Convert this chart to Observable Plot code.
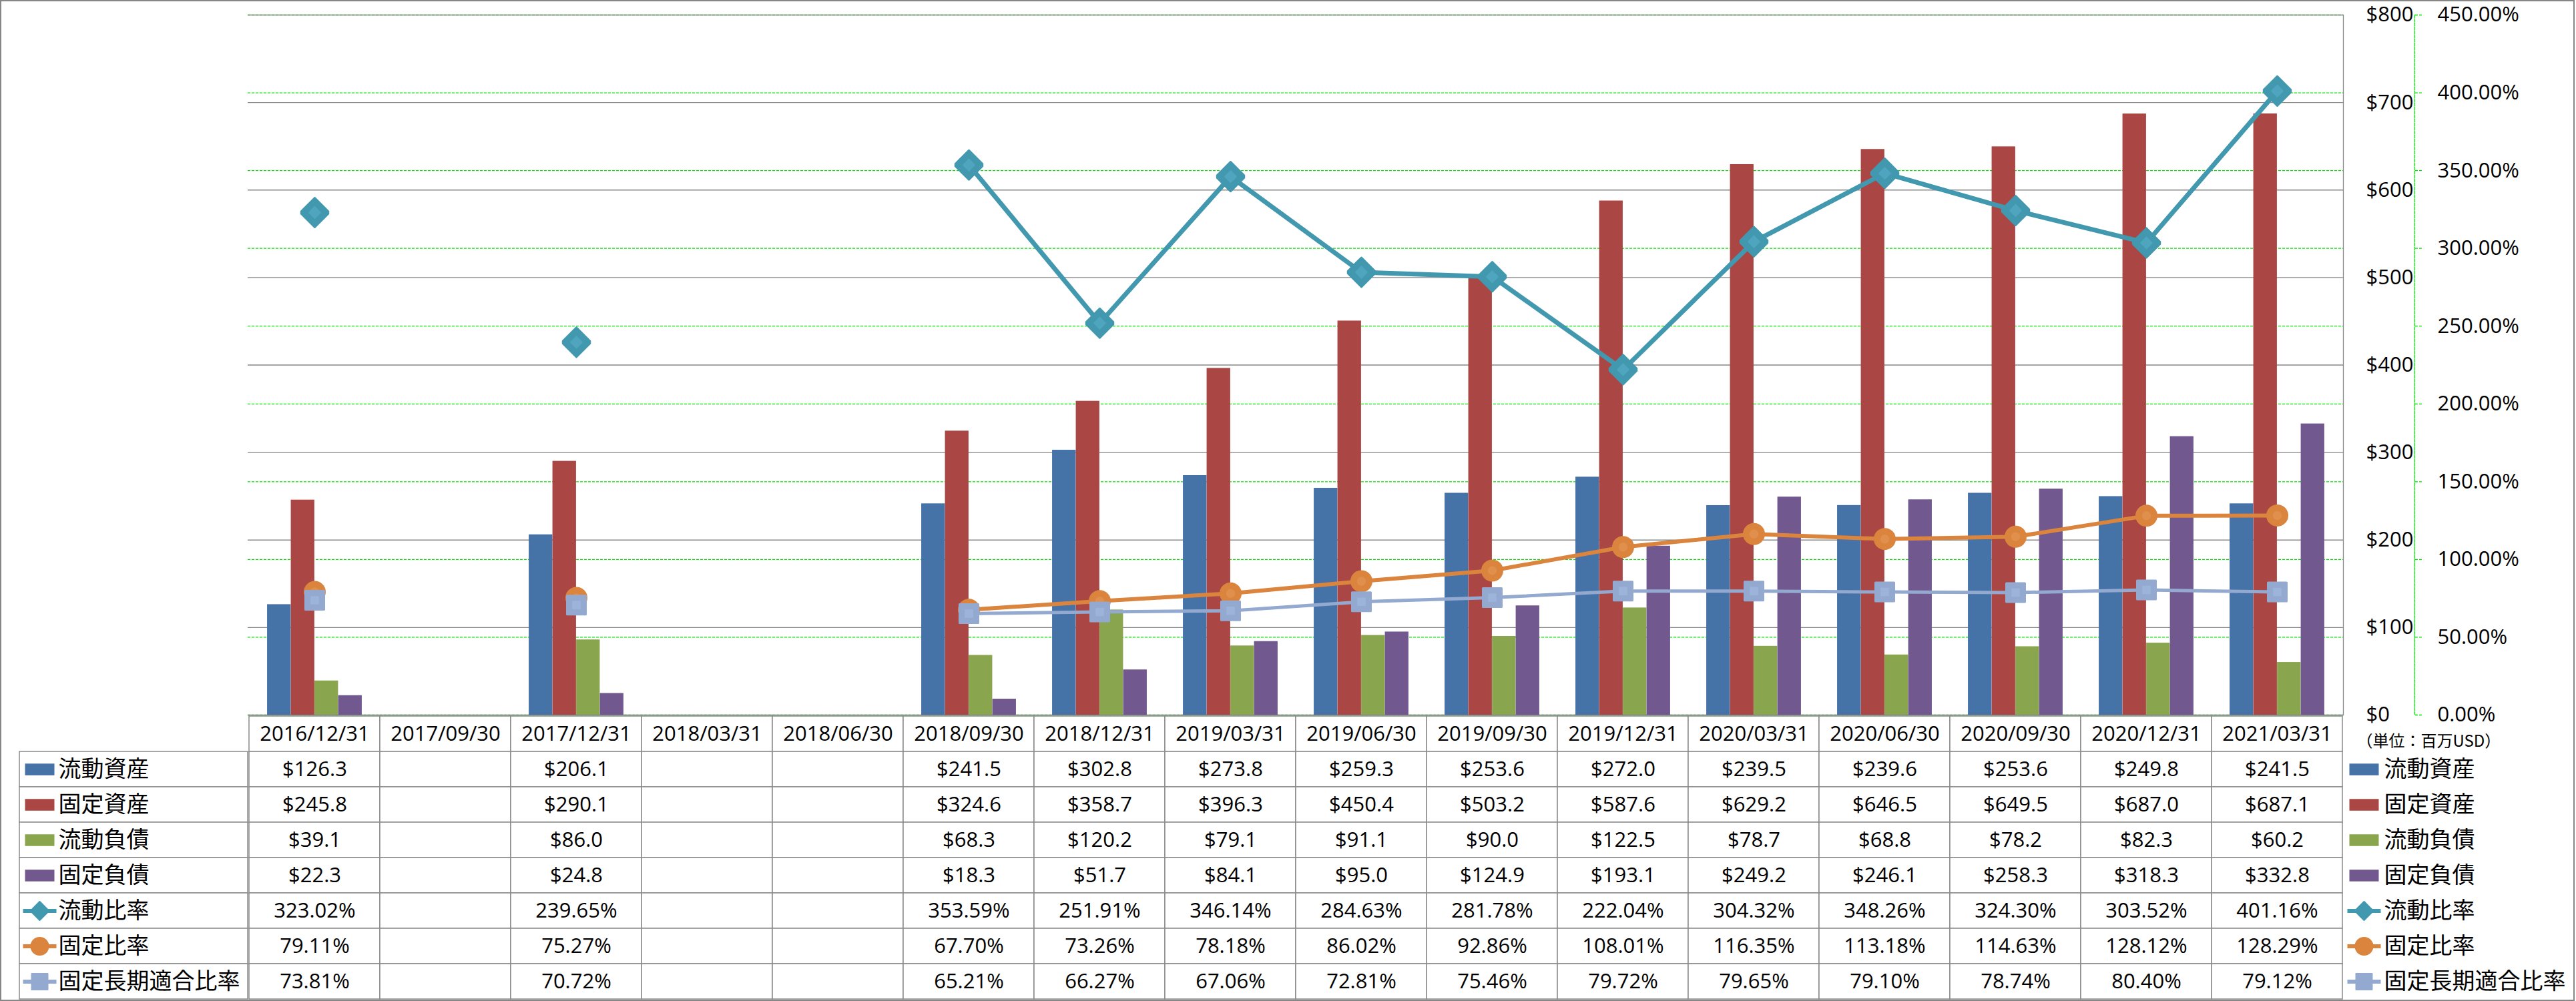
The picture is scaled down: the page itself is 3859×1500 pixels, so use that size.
<!DOCTYPE html>
<html>
<head>
<meta charset="utf-8">
<script src="https://cdn.jsdelivr.net/npm/d3@7"></script>
<script src="https://cdn.jsdelivr.net/npm/@observablehq/plot@0.6"></script>
<style>
html, body { margin: 0; padding: 0; background: #fff; }
#wrap { position: relative; width: 3859px; height: 1500px; overflow: hidden; background: #fff; }
#table-left { position: absolute; left: 0; top: 1072px; }
#table-right { position: absolute; left: 371px; top: 1072px; }
#chart { position: absolute; left: 0; top: 0; }
#border { position: absolute; left: 0; top: 0; width: 3857px; height: 1500px; box-sizing: border-box; border: 2px solid #868686; pointer-events: none; }
</style>
</head>
<body>
<div id="wrap">
  <div id="table-left"></div>
  <div id="table-right"></div>
  <div id="chart"></div>
  <div id="border"></div>
</div>
<script>
// ---------------- data ----------------
const dates = ["2016/12/31","2017/09/30","2017/12/31","2018/03/31","2018/06/30","2018/09/30","2018/12/31","2019/03/31","2019/06/30","2019/09/30","2019/12/31","2020/03/31","2020/06/30","2020/09/30","2020/12/31","2021/03/31"];
const currentAssets      = [126.3, null, 206.1, null, null, 241.5, 302.8, 273.8, 259.3, 253.6, 272.0, 239.5, 239.6, 253.6, 249.8, 241.5];
const fixedAssets        = [245.8, null, 290.1, null, null, 324.6, 358.7, 396.3, 450.4, 503.2, 587.6, 629.2, 646.5, 649.5, 687.0, 687.1];
const currentLiabilities = [39.1, null, 86.0, null, null, 68.3, 120.2, 79.1, 91.1, 90.0, 122.5, 78.7, 68.8, 78.2, 82.3, 60.2];
const fixedLiabilities   = [22.3, null, 24.8, null, null, 18.3, 51.7, 84.1, 95.0, 124.9, 193.1, 249.2, 246.1, 258.3, 318.3, 332.8];
const currentRatio       = [323.02, null, 239.65, null, null, 353.59, 251.91, 346.14, 284.63, 281.78, 222.04, 304.32, 348.26, 324.30, 303.52, 401.16];
const fixedRatio         = [79.11, null, 75.27, null, null, 67.70, 73.26, 78.18, 86.02, 92.86, 108.01, 116.35, 113.18, 114.63, 128.12, 128.29];
const fixedLongTermRatio = [73.81, null, 70.72, null, null, 65.21, 66.27, 67.06, 72.81, 75.46, 79.72, 79.65, 79.10, 78.74, 80.40, 79.12];
const seriesNames = ["流動資産", "固定資産", "流動負債", "固定負債", "流動比率", "固定比率", "固定長期適合比率"];
const dollarTicks = [0, 100, 200, 300, 400, 500, 600, 700, 800];
const pctTicks = [0, 50, 100, 150, 200, 250, 300, 350, 400, 450];
const unitLabel = "（単位：百万USD）";

// ---------------- styles ----------------
const colors = ["#4572A7", "#AA4643", "#89A54E", "#71588F", "#4198AF", "#DB843D", "#93A9CF"];
const latin = "'Open Sans', 'Noto Sans CJK JP', sans-serif";
const cjk = "'Noto Sans CJK JP', 'Open Sans', sans-serif";
const W = 3859, ML = 371, MR = 349, MT = 22, CH = 1100, MB = 29;
const K = 800 / 450; // percent -> dollar axis
const GRID = "#868686", GREEN = "#00e800";

// custom symbols (r = sqrt(size / PI))
const rad = (size) => Math.sqrt(size / Math.PI);
const diamondSym = {draw(c, s) { const r = rad(s); c.moveTo(0, -r); c.lineTo(r * 0.92, -r * 0.08); c.lineTo(r * 0.92, r * 0.08); c.lineTo(0, r); c.lineTo(-r * 0.92, r * 0.08); c.lineTo(-r * 0.92, -r * 0.08); c.closePath(); }};
const squareSym = {draw(c, s) { const r = rad(s); c.rect(-r, -r, 2 * r, 2 * r); }};
const rectSym = {draw(c, s) { const r = rad(s); c.rect(-r, -r * 0.4, 2 * r, r * 0.8); }};
const hlineSym = {draw(c, s) { const r = rad(s); c.moveTo(-r, 0); c.lineTo(r, 0); }};

const barSeries = [
  {name: seriesNames[0], values: currentAssets, color: colors[0]},
  {name: seriesNames[1], values: fixedAssets, color: colors[1]},
  {name: seriesNames[2], values: currentLiabilities, color: colors[2]},
  {name: seriesNames[3], values: fixedLiabilities, color: colors[3]}
];
const lineSeries = [
  {name: seriesNames[4], values: currentRatio, color: colors[4], symbol: diamondSym, r: 22, lr: 14, width: 7, inner: "#4ea5bd"},
  {name: seriesNames[5], values: fixedRatio, color: colors[5], symbol: "circle", r: 15, lr: 13, width: 6, inner: "#e08f4d"},
  {name: seriesNames[6], values: fixedLongTermRatio, color: colors[6], symbol: squareSym, r: 14, lr: 12, width: 5, inner: "#9db4da"}
];

// ---------------- chart ----------------
const bw = (W - ML - MR) / dates.length;
const barW = bw * 0.181;
const off = (bw - 4 * barW) / 2;

const marks = [
  Plot.gridY(pctTicks.map(p => p * K), {stroke: GREEN, strokeOpacity: 1, strokeWidth: 1.3, strokeDasharray: "4,2"}),
  Plot.gridY(dollarTicks, {stroke: GRID, strokeOpacity: 1, strokeWidth: 1.3}),
  Plot.frame({anchor: "right", stroke: GRID, strokeWidth: 1.3}),
  Plot.frame({anchor: "right", dx: 107, stroke: GREEN, strokeWidth: 1.3, strokeDasharray: "4,2"}),
  Plot.axisY(dollarTicks, {anchor: "right", label: null, tickSize: 0, tickPadding: 34, tickFormat: d => "$" + d, fontSize: 31, fill: "black"}),
  Plot.axisY(pctTicks.map(p => p * K), {anchor: "right", label: null, dx: 107, tickSize: 11, tickPadding: 23, tickFormat: v => (v / K).toFixed(2) + "%", stroke: GREEN, strokeWidth: 1.3, strokeDasharray: "4,2", fill: "black", fontSize: 31})
];

barSeries.forEach((s, j) => {
  const data = dates.map((d, i) => ({date: d, v: s.values[i]})).filter(d => d.v != null);
  marks.push(Plot.barY(data, {x: "date", y: "v", fill: s.color, insetLeft: off + j * barW, insetRight: bw - off - (j + 1) * barW}));
});

lineSeries.forEach((s) => {
  const data = dates.map((d, i) => ({date: d, v: s.values[i] == null ? NaN : s.values[i] * K}));
  const pts = data.filter(d => !isNaN(d.v));
  marks.push(Plot.line(data, {x: "date", y: "v", stroke: s.color, strokeWidth: s.width, strokeLinejoin: "round"}));
  marks.push(Plot.dot(pts, {x: "date", y: "v", symbol: s.symbol, r: s.r, fill: s.color, stroke: s.color, strokeWidth: 3, strokeLinejoin: "round"}));
  marks.push(Plot.dot(pts, {x: "date", y: "v", symbol: s.symbol, r: s.r * 0.45, fill: s.inner, stroke: "none"}));
});

const chart = Plot.plot({
  width: W, height: CH,
  marginLeft: ML, marginRight: MR, marginTop: MT, marginBottom: MB,
  x: {domain: dates, padding: 0, axis: null, label: null},
  y: {domain: [0, 800], axis: null, label: null},
  style: {fontFamily: latin, background: "transparent", overflow: "visible", color: "black"},
  marks
});
document.getElementById("chart").appendChild(chart);

// ---------------- data table ----------------
const rowKeys = ["header", ...seriesNames];
const allValues = [currentAssets, fixedAssets, currentLiabilities, fixedLiabilities, currentRatio, fixedRatio, fixedLongTermRatio];
const cells = [];
dates.forEach(d => cells.push({date: d, row: "header", text: d}));
seriesNames.forEach((name, k) => {
  dates.forEach((d, i) => {
    const v = allValues[k][i];
    const text = v == null ? "" : (k < 4 ? "$" + v.toFixed(1) : v.toFixed(2) + "%");
    cells.push({date: d, row: name, text});
  });
});
const TH = 428, TB = 2;

const legendMarks = (anchor, dxSym, dxText) => [
  Plot.dot(barSeries, {y: "name", frameAnchor: anchor, dx: dxSym, symbol: rectSym, r: 22, fill: "color", stroke: "none"}),
  Plot.dot(lineSeries, {y: "name", frameAnchor: anchor, dx: dxSym, symbol: hlineSym, r: 25, stroke: "color", strokeWidth: 6, fill: "none"}),
  ...lineSeries.map(s => Plot.dot([s], {y: "name", frameAnchor: anchor, dx: dxSym, symbol: s.symbol, r: s.lr, fill: s.color, stroke: s.color, strokeWidth: 2, strokeLinejoin: "round"})),
  Plot.text([...barSeries, ...lineSeries], {y: "name", text: "name", frameAnchor: anchor, dx: dxText, textAnchor: "start", fontSize: 34, fontFamily: cjk, fill: "black"})
];

const tableRight = Plot.plot({
  width: W - ML, height: TH,
  marginLeft: 0, marginRight: MR, marginTop: 0, marginBottom: TB,
  x: {domain: dates, padding: 0, axis: null, label: null},
  y: {domain: rowKeys, padding: 0, axis: null, label: null},
  style: {fontFamily: latin, background: "transparent", overflow: "visible", color: "black"},
  marks: [
    Plot.cell(cells, {x: "date", y: "row", fill: "white", stroke: "#8a8a8a", strokeWidth: 1.5, inset: 0}),
    Plot.text(cells.filter(c => c.text), {x: "date", y: "row", text: "text", fontSize: 31, fill: "black"}),
    ...legendMarks("right", 31, 61),
    Plot.text([{row: "header", label: unitLabel}], {y: "row", text: "label", frameAnchor: "right", dx: 20, dy: 11, textAnchor: "start", fontSize: 24, fontFamily: cjk, fill: "black"})
  ]
});
document.getElementById("table-right").appendChild(tableRight);

const legendCells = seriesNames.map(name => ({col: "legend", row: name}));
const tableLeft = Plot.plot({
  width: ML, height: TH,
  marginLeft: 29, marginRight: 0, marginTop: 0, marginBottom: TB,
  x: {domain: ["legend"], padding: 0, axis: null, label: null},
  y: {domain: rowKeys, padding: 0, axis: null, label: null},
  style: {fontFamily: latin, background: "transparent", overflow: "visible", color: "black"},
  marks: [
    Plot.cell(legendCells, {x: "col", y: "row", fill: "white", stroke: "#8a8a8a", strokeWidth: 1.5, inset: 0}),
    ...legendMarks("left", 30, 58)
  ]
});
document.getElementById("table-left").appendChild(tableLeft);
</script>
</body>
</html>
